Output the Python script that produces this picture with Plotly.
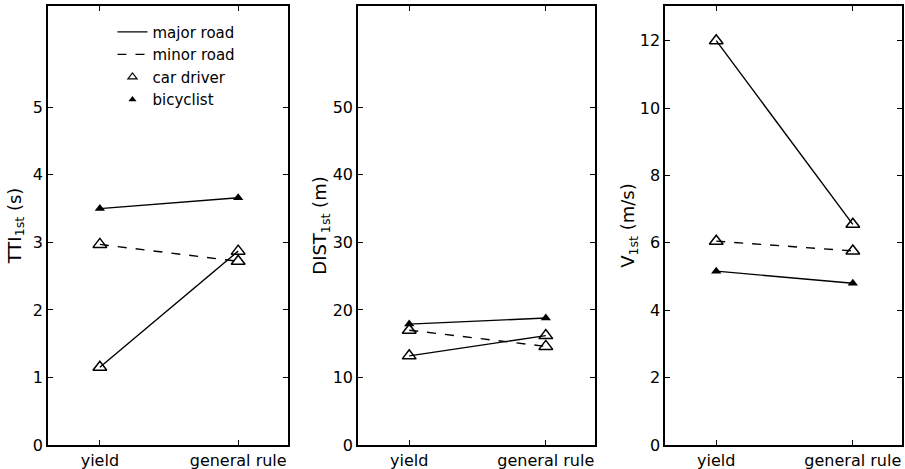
import plotly.graph_objects as go
from plotly.subplots import make_subplots

categories = ["yield", "general rule"]

# Panel 1: TTI 1st (s)
tti_car_major = [1.15, 2.87]
tti_car_minor = [2.97, 2.72]
tti_bike_major = [3.50, 3.66]

# Panel 2: DIST 1st (m)
dist_car_major = [13.2, 16.2]
dist_car_minor = [17.0, 14.6]
dist_bike_major = [17.9, 18.8]

# Panel 3: V 1st (m/s)
v_car_major = [12.0, 6.55]
v_car_minor = [6.05, 5.76]
v_bike_major = [5.16, 4.80]

y_titles = ["TTI<sub>1st</sub> (s)", "DIST<sub>1st</sub> (m)", "V<sub>1st</sub> (m/s)"]
y_ranges = [[0, 6.5], [0, 65], [0, 13.03]]
y_ticks = [[0, 1, 2, 3, 4, 5], [0, 10, 20, 30, 40, 50], [0, 2, 4, 6, 8, 10, 12]]
title_standoffs = [7, 0, 0]

panels = [
    (tti_car_major, tti_car_minor, tti_bike_major),
    (dist_car_major, dist_car_minor, dist_bike_major),
    (v_car_major, v_car_minor, v_bike_major),
]

fig = make_subplots(rows=1, cols=3)

FONT = "DejaVu Sans"
open_tri = dict(symbol="triangle-up-open", size=12, color="black", line=dict(width=1.5, color="black"))
fill_tri = dict(symbol="triangle-up", size=9, color="black")

for i, (cmaj, cmin, bmaj) in enumerate(panels, start=1):
    fig.add_trace(go.Scatter(x=categories, y=cmaj, mode="lines+markers",
                             line=dict(color="black", width=1.4), marker=open_tri,
                             showlegend=False), row=1, col=i)
    fig.add_trace(go.Scatter(x=categories, y=cmin, mode="lines+markers",
                             line=dict(color="black", width=1.4, dash="dash"), marker=open_tri,
                             showlegend=False), row=1, col=i)
    fig.add_trace(go.Scatter(x=categories, y=bmaj, mode="lines+markers",
                             line=dict(color="black", width=1.4), marker=fill_tri,
                             showlegend=False), row=1, col=i)

# legend entries
fig.add_trace(go.Scatter(x=[None], y=[None], mode="lines", name="major road",
                         line=dict(color="black", width=1.4)), row=1, col=1)
fig.add_trace(go.Scatter(x=[None], y=[None], mode="lines", name="minor road",
                         line=dict(color="black", width=1.4, dash="dash")), row=1, col=1)
fig.add_trace(go.Scatter(x=[None], y=[None], mode="markers", name="car driver",
                         marker=dict(symbol="triangle-up-open", size=8, color="black",
                                     line=dict(width=1.2, color="black"))), row=1, col=1)
fig.add_trace(go.Scatter(x=[None], y=[None], mode="markers", name="bicyclist",
                         marker=dict(symbol="triangle-up", size=7, color="black")), row=1, col=1)

domains = [[0.0, 0.281], [0.363, 0.6405], [0.7225, 1.0]]
for i in range(3):
    xa = "xaxis" if i == 0 else f"xaxis{i+1}"
    ya = "yaxis" if i == 0 else f"yaxis{i+1}"
    fig.layout[xa].update(domain=domains[i], type="category", range=[-0.375, 1.36],
                          showline=True, linecolor="black", linewidth=1.5, mirror="ticks",
                          ticks="inside", ticklen=5, tickwidth=1.3, tickcolor="black",
                          showgrid=False, zeroline=False, automargin=False,
                          tickfont=dict(family=FONT, size=16, color="black"))
    fig.layout[ya].update(range=y_ranges[i], tickvals=y_ticks[i],
                          showline=True, linecolor="black", linewidth=1.5, mirror="ticks",
                          ticks="inside", ticklen=5, tickwidth=1.3, tickcolor="black",
                          showgrid=False, zeroline=False, automargin=False,
                          tickfont=dict(family=FONT, size=16, color="black"),
                          title=dict(text=y_titles[i], font=dict(family=FONT, size=18, color="black"),
                                     standoff=title_standoffs[i]))

fig.update_layout(
    width=905, height=469,
    margin=dict(l=48, r=3, t=6, b=24),
    paper_bgcolor="white", plot_bgcolor="white",
    font=dict(family=FONT, size=16, color="black"),
    showlegend=True,
    legend=dict(x=0.0755, y=0.978, xanchor="left", yanchor="top",
                bgcolor="rgba(0,0,0,0)", borderwidth=0,
                font=dict(family=FONT, size=15, color="black"),
                tracegroupgap=0, itemsizing="trace"),
)

fig.write_html("out.html", config={"displayModeBar": False},
               post_script="document.body.style.margin='0';document.body.style.padding='0';")
